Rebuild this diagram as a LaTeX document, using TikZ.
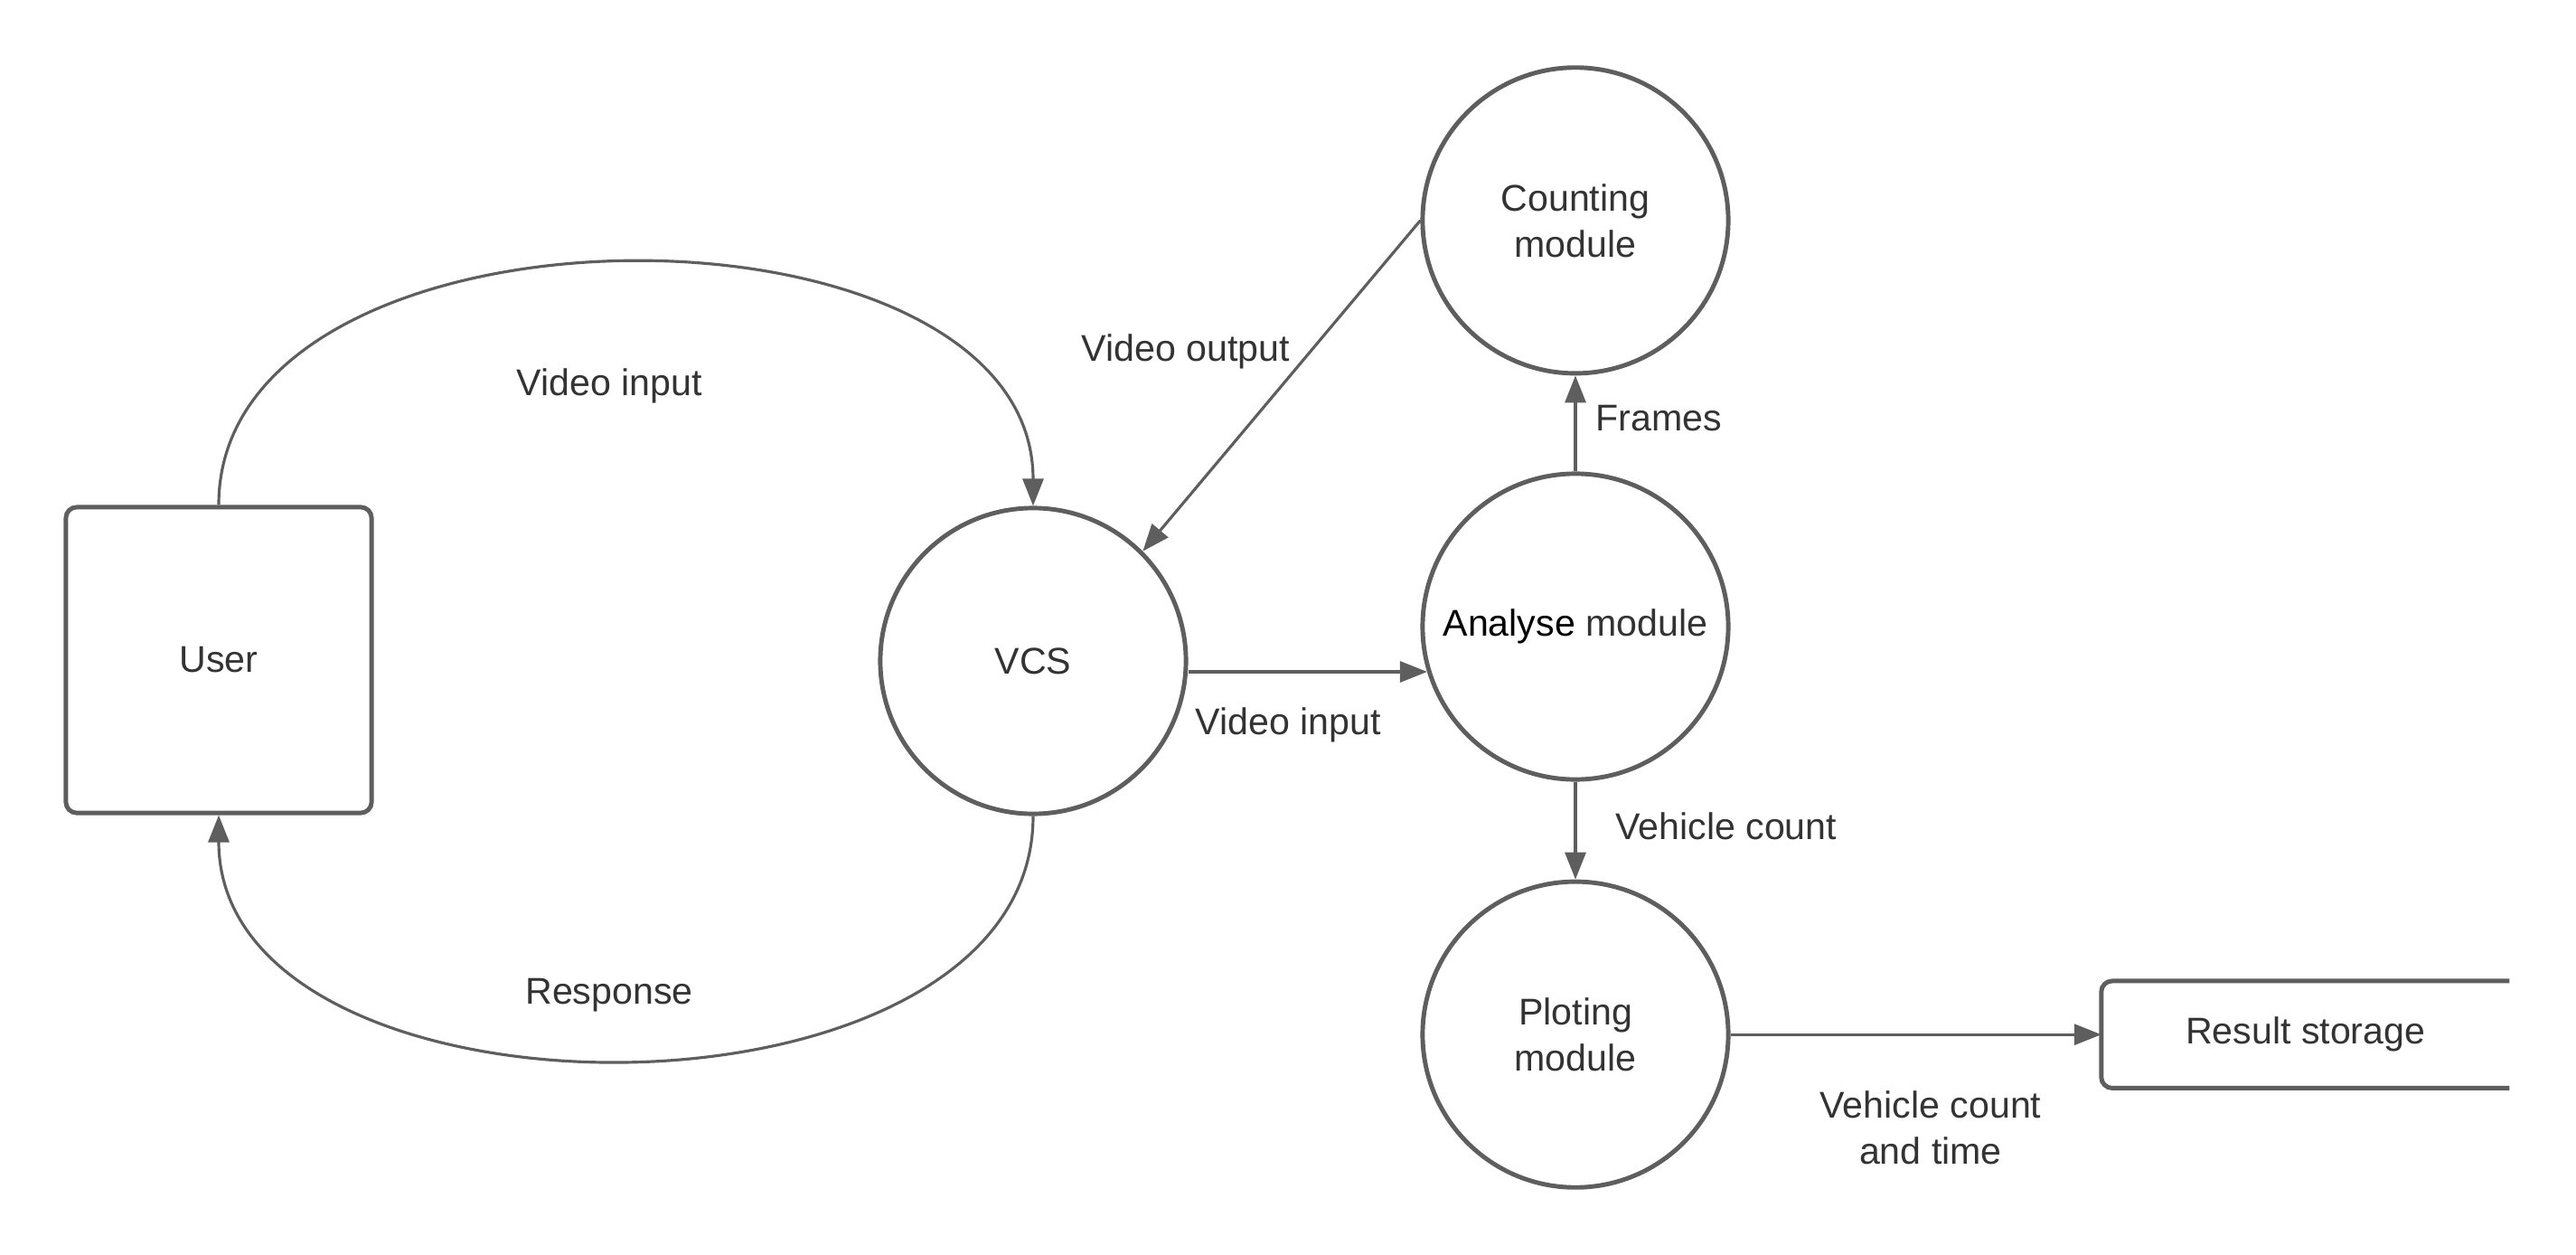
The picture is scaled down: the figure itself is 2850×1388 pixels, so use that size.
\documentclass[tikz,border=0pt]{standalone}
\usepackage{fontspec}
\setmainfont{Liberation Sans}
\usetikzlibrary{arrows.meta,positioning}
\definecolor{linegray}{HTML}{5E5E5E}
\definecolor{textgray}{HTML}{333333}

\begin{document}
\begin{tikzpicture}[x=0.01cm,y=-0.01cm,
  font=\fontsize{11.7}{14.5}\selectfont, text=textgray,
  process/.style={circle, draw=linegray, fill=white, line width=1.4pt, minimum size=3.38cm, inner sep=0pt, align=center},
  entity/.style={rectangle, rounded corners=1.2mm, draw=linegray, fill=white, line width=1.4pt, minimum size=3.38cm},
  store/.style={rectangle, minimum width=4.5cm, minimum height=1.17cm},
  flow/.style={draw=linegray, line width=0.9pt, -{Triangle[length=3mm,width=2.3mm]}},
  flowlabel/.style={text=textgray, align=center}]
  \useasboundingbox (0,0) rectangle (2850,1388);

  % entities and processes
  \node [entity] (User) at (242,730) {User};
  \node [process] (VCS) at (1143,731) {VCS};
  \node [process] (Analyse) at (1743,693) {{\color{black}Analyse} module};
  \node [process, above=1.06cm of Analyse] (Count) {Counting\\module};
  \node [process, below=1.08cm of Analyse] (Plot) {Ploting\\module};
  \node [store, right=4.1cm of Plot] (Store) {Result storage};
  \draw [linegray, line width=1.4pt, rounded corners=1.2mm]
    (Store.north east) -- (Store.north west) -- (Store.south west) -- (Store.south east);

  % data flows
  \draw [flow] (User.north) .. controls +(0,-356) and +(0,-356) .. (VCS.north);
  \draw [flow] (VCS.south) .. controls +(0,359) and +(0,359) .. (User.south);
  \draw [flow] (Count.west) -- (VCS.45);
  \coordinate (vin) at ([yshift=-1.2mm]VCS.east);
  \draw [flow] (vin) -- (vin -| Analyse.197);
  \draw [flow] (Analyse.north) -- (Count.south);
  \draw [flow] (Analyse.south) -- (Plot.north);
  \draw [flow] (Plot.east) -- (Store.west);

  % flow labels
  \node [flowlabel] (lblVideoIn) at (674,427) {Video input};
  \node [flowlabel] (lblResponse) at (674,1101) {Response};
  \node [flowlabel] (lblVideoOut) at (1312,389) {Video output};
  \node [flowlabel] (lblVideoIn2) at (1425,802) {Video input};
  \node [flowlabel, right] (lblFrames) at (1753,463) {Frames};
  \node [flowlabel, right] (lblCount) at (1775,914) {Vehicle count};
  \node [flowlabel] (lblCountTime) at (2136,1247) {Vehicle count\\and time};
\end{tikzpicture}
\end{document}
